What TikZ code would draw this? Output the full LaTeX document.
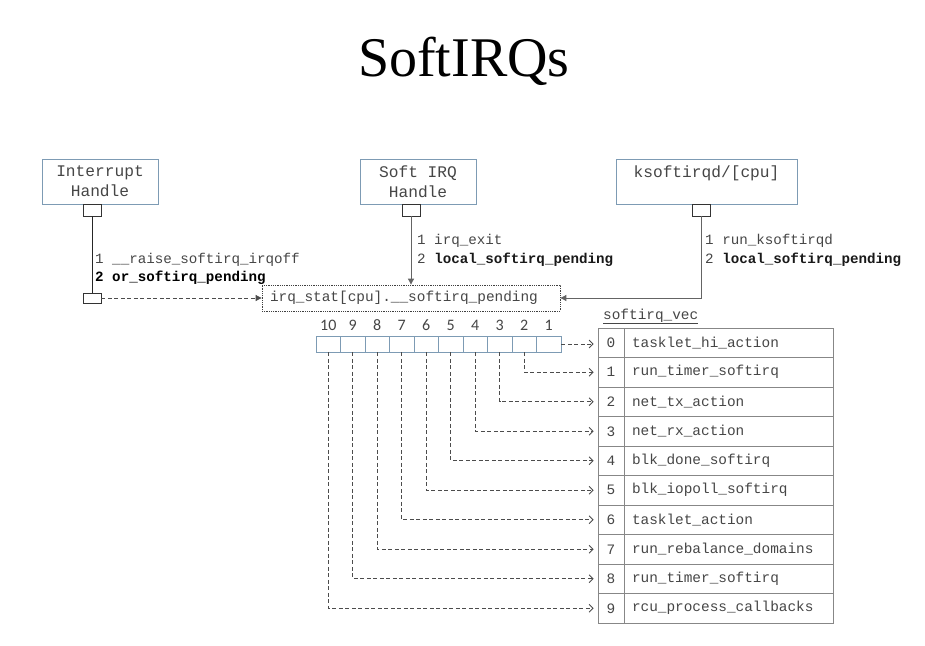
\documentclass[tikz,border=0pt]{standalone}
\usepackage{fontspec}
\setmainfont{Liberation Serif}
\setmonofont{Liberation Mono}
\newfontfamily\numfont{Carlito}
\usetikzlibrary{arrows.meta}
\definecolor{boxblue}{RGB}{125,155,180}
\definecolor{tablegray}{RGB}{135,135,135}
\definecolor{textgray}{RGB}{70,70,70}
\definecolor{linegray}{RGB}{100,100,100}
\begin{document}
\begin{tikzpicture}[x=1pt,y=-1pt,
  topbox/.style={draw=boxblue, line width=0.9pt, font=\ttfamily\fontsize{16.2}{20}\selectfont, text=textgray, align=center, inner sep=0pt},
  sqbox/.style={draw=black!80, line width=0.8pt, fill=white, minimum width=18pt, minimum height=12pt, inner sep=0pt},
  lbl/.style={font=\ttfamily\fontsize{14.2}{16}\selectfont, text=textgray, inner sep=0pt, anchor=base west},
  cellbox/.style={draw=boxblue, line width=0.9pt, minimum width=24.5pt, minimum height=16pt, inner sep=0pt},
  numlbl/.style={font=\numfont\fontsize{16}{18}\selectfont, text=textgray, inner sep=0pt},
  idxbox/.style={draw=tablegray, line width=0.8pt, minimum width=26pt, minimum height=29.5pt, inner sep=0pt, font=\ttfamily\fontsize{14.4}{16}\selectfont, text=textgray},
  fnbox/.style={draw=tablegray, line width=0.8pt, text width=193pt, inner xsep=8pt, inner ysep=0pt, minimum height=29.5pt, align=left, font=\ttfamily\fontsize{14.4}{16}\selectfont, text=textgray},
  solidarrow/.style={draw=linegray, line width=0.9pt, -{Triangle[length=6pt,width=6pt]}},
  dasharrow/.style={draw=black!70, line width=0.8pt, dash pattern=on 4pt off 2.5pt, -{Straight Barb[length=4pt,width=8pt]}, shorten >=4pt}
]
\useasboundingbox (0,0) rectangle (925,645);
\fill[white] (0,0) rectangle (925,645);

% title
\node[font=\fontsize{56}{60}\selectfont, anchor=base, inner sep=0pt] (title) at (464,76) {SoftIRQs};

% top boxes
\node[topbox, minimum width=116pt, minimum height=45pt] (ih) at (100,181.5) {Interrupt\\Handle};
\node[topbox, minimum width=116pt, minimum height=45pt] (sh) at (418,181.5) {Soft IRQ\\Handle};
\node[topbox, minimum width=181pt, minimum height=45pt] (ks) at (706.5,181.5) {ksoftirqd/[cpu]\\\mbox{}};

% small squares
\node[sqbox] (isq) at (92,210) {};
\node[sqbox] (ssq) at (411,210) {};
\node[sqbox] (ksq) at (701.5,210) {};
\node[sqbox, minimum height=10pt] (lsq) at (92,298) {};

% irq_stat box
\node[draw=black!75, line width=0.8pt, densely dotted, text width=282pt, inner xsep=8pt, inner ysep=0pt, minimum height=26pt, align=left,
      font=\ttfamily\fontsize{14.4}{16}\selectfont, text=textgray] (irq) at (411,298) {irq\_stat[cpu].\_\_softirq\_pending};

% connectors from handlers
\draw[black!85, line width=0.9pt] (isq.south) -- (lsq.north);
\draw[draw=black!70, line width=0.8pt, dash pattern=on 4pt off 2.5pt, -{Triangle[length=6pt,width=6pt]}] (lsq.east) -- (irq.west);
\draw[solidarrow] (ssq.south) -- (ssq.south |- irq.north);
\draw[solidarrow] (ksq.south) |- (irq.east);

% labels
\node[lbl] (l1) at (95,263) {1 \_\_raise\_softirq\_irqoff};
\node[lbl, text=black] (l2) at (95,281) {\bfseries 2 or\_softirq\_pending};
\node[lbl] (s1) at (417,244) {1 irq\_exit};
\node[lbl] (s2) at (417,263) {2 {\bfseries\color{black!90}local\_softirq\_pending}};
\node[lbl] (k1) at (705,244) {1 run\_ksoftirqd};
\node[lbl] (k2) at (705,263) {2 {\bfseries\color{black!90}local\_softirq\_pending}};

% bit cells (10 at left ... 1 at right)
\foreach \j in {1,...,10} {
  \pgfmathsetmacro{\cx}{316+24.5*(10-\j)+12.25}
  \node[cellbox] (c\j) at (\cx,344) {};
  \node[numlbl] (n\j) at (\cx,325) {\j};
}

% softirq_vec table
\node[font=\ttfamily\fontsize{14.4}{16}\selectfont, text=textgray, anchor=base west, inner sep=0pt] (vec) at (603,319) {\underline{softirq\_vec}};
\foreach \fn [count=\i from 0] in {tasklet\_hi\_action, run\_timer\_softirq, net\_tx\_action, net\_rx\_action, blk\_done\_softirq, blk\_iopoll\_softirq, tasklet\_action, run\_rebalance\_domains, run\_timer\_softirq, rcu\_process\_callbacks} {
  \pgfmathsetmacro{\ry}{328+29.5*(\i+0.5)}
  \node[idxbox] (idx\i) at (611,\ry) {\i};
  \node[fnbox] (fn\i) at (728.5,\ry) {\fn};
}

% bit -> vector arrows
\draw[dasharrow] (c1.east) -- (c1.east -| idx0.west);
\foreach \j [evaluate=\j as \r using int(\j-1)] in {2,...,10} {
  \draw[dasharrow] (c\j.south) |- (idx\r.west);
}
\end{tikzpicture}
\end{document}
